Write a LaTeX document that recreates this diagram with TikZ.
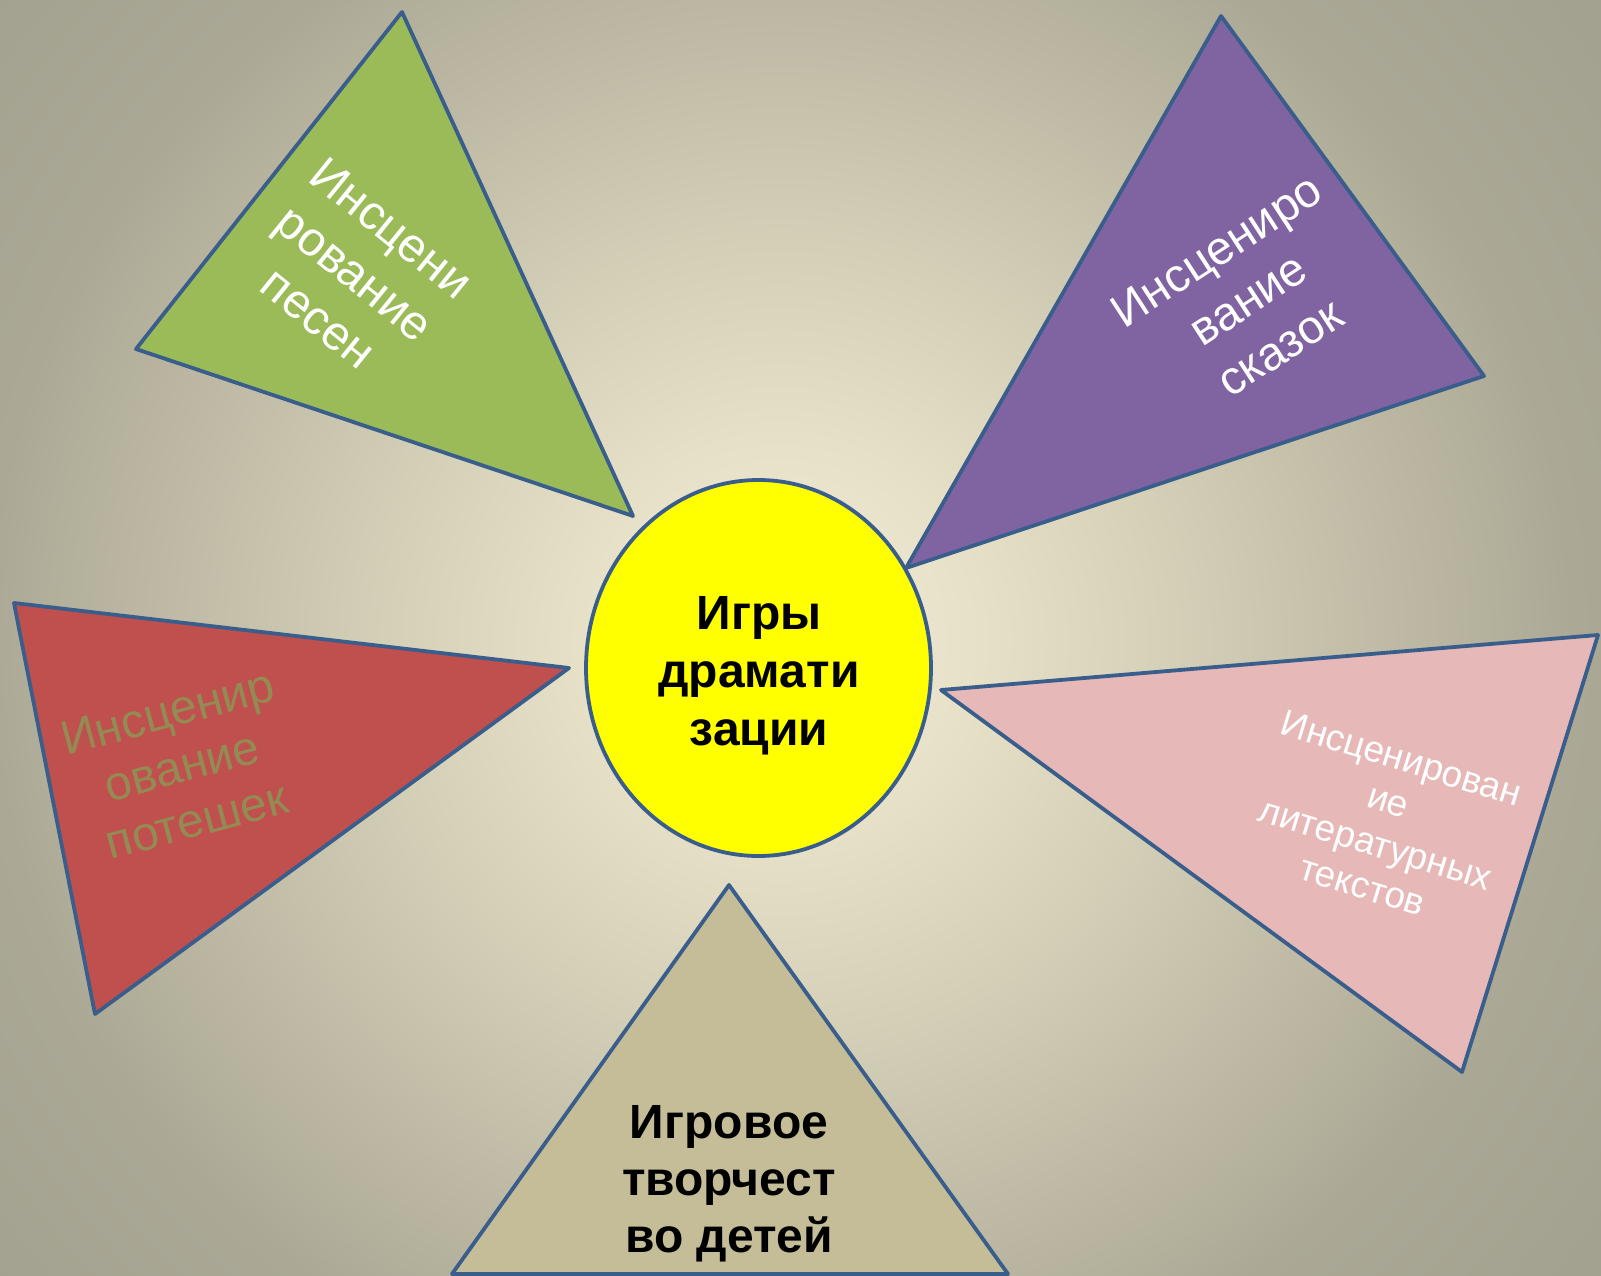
\documentclass[tikz,border=0pt]{standalone}
\usepackage{fontspec}
\setmainfont{Liberation Sans}
\usetikzlibrary{shapes.geometric}
\definecolor{edgeblue}{HTML}{3A5E8C}
\definecolor{greenfill}{HTML}{9BBB59}
\definecolor{purplefill}{HTML}{8064A2}
\definecolor{redfill}{HTML}{C0504D}
\definecolor{pinkfill}{HTML}{E6B9B8}
\definecolor{beigefill}{HTML}{C4BD97}
\definecolor{olivetext}{HTML}{948A54}
\definecolor{brightyellow}{RGB}{255,255,0}
\definecolor{bgA}{HTML}{F3EED9}
\definecolor{bgB}{HTML}{E6E0C7}
\definecolor{bgC}{HTML}{D3CEB6}
\definecolor{bgD}{HTML}{BDB8A3}
\definecolor{bgE}{HTML}{ABA996}
\definecolor{bgF}{HTML}{A3A18F}
\pgfdeclareradialshading{bgshade}{\pgfpoint{0bp}{0bp}}{color(0bp)=(bgA); color(5bp)=(bgB); color(10bp)=(bgC); color(15.5bp)=(bgD); color(19.5bp)=(bgE); color(25bp)=(bgF); color(50bp)=(bgF)}
\begin{document}
\begin{tikzpicture}[x=1pt,y=-1pt,
  tri/.style={draw=edgeblue, line width=3.8pt, line join=round},
  bigtext/.style={align=center, inner sep=0pt, font=\fontsize{48}{58}\selectfont},
  boldtext/.style={align=center, inner sep=0pt, font=\fontsize{48}{58}\selectfont\bfseries},
  smalltext/.style={align=center, inner sep=0pt, font=\fontsize{37}{44.5}\selectfont}]
\useasboundingbox (0,0) rectangle (1601,1276);
\begin{scope}
\clip (0,0) rectangle (1601,1276);
\shade[shading=bgshade] (-235,-375) rectangle (1795,1655);
\end{scope}
% green
\coordinate (g1) at (402,12);
\coordinate (g2) at (136,349);
\coordinate (g3) at (633,516);
\draw[tri, fill=greenfill] (g1) -- (g2) -- (g3) -- cycle;
\node[bigtext, text=white, rotate=-39] (gtext) at (355,273) {Инсцени\\рование\\песен};
% purple
\coordinate (p1) at (1221,16);
\coordinate (p2) at (1484,376);
\coordinate (p3) at (906,568);
\draw[tri, fill=purplefill] (p1) -- (p2) -- (p3) -- cycle;
\node[bigtext, text=white, rotate=33, font=\fontsize{47}{58}\selectfont] (ptext) at (1248,299) {Инсцениро\\вание\\сказок};
% red
\coordinate (r1) at (14,603);
\coordinate (r2) at (569,668);
\coordinate (r3) at (95,1014);
\draw[tri, fill=redfill] (r1) -- (r2) -- (r3) -- cycle;
\node[bigtext, text=olivetext, rotate=15, font=\fontsize{48}{56}\selectfont] (rtext) at (182,766) {Инсценир\\ование\\потешек};
% pink
\coordinate (k1) at (941,690);
\coordinate (k2) at (1598,635);
\coordinate (k3) at (1462,1072);
\draw[tri, fill=pinkfill] (k1) -- (k2) -- (k3) -- cycle;
\node[smalltext, text=white, rotate=-17] (ktext) at (1382,822) {Инсценирован\\ие\\литературных\\текстов};
% bottom
\coordinate (b1) at (729,885);
\coordinate (b2) at (1008,1274);
\coordinate (b3) at (452,1274);
\draw[tri, fill=beigefill] (b1) -- (b2) -- (b3) -- cycle;
\node[boldtext, text=black, font=\fontsize{48}{57}\selectfont\bfseries] (btext) at (729,1184) {Игровое\\творчест\\во детей};
% centre
\node[ellipse, draw=edgeblue, line width=3.8pt, fill=brightyellow, minimum width=345pt, minimum height=376pt, inner sep=0pt] (centre) at (758.5,668) {};
\node[boldtext, text=black] (ctext) at (759,676) {Игры\\драмати\\зации};
\end{tikzpicture}
\end{document}
